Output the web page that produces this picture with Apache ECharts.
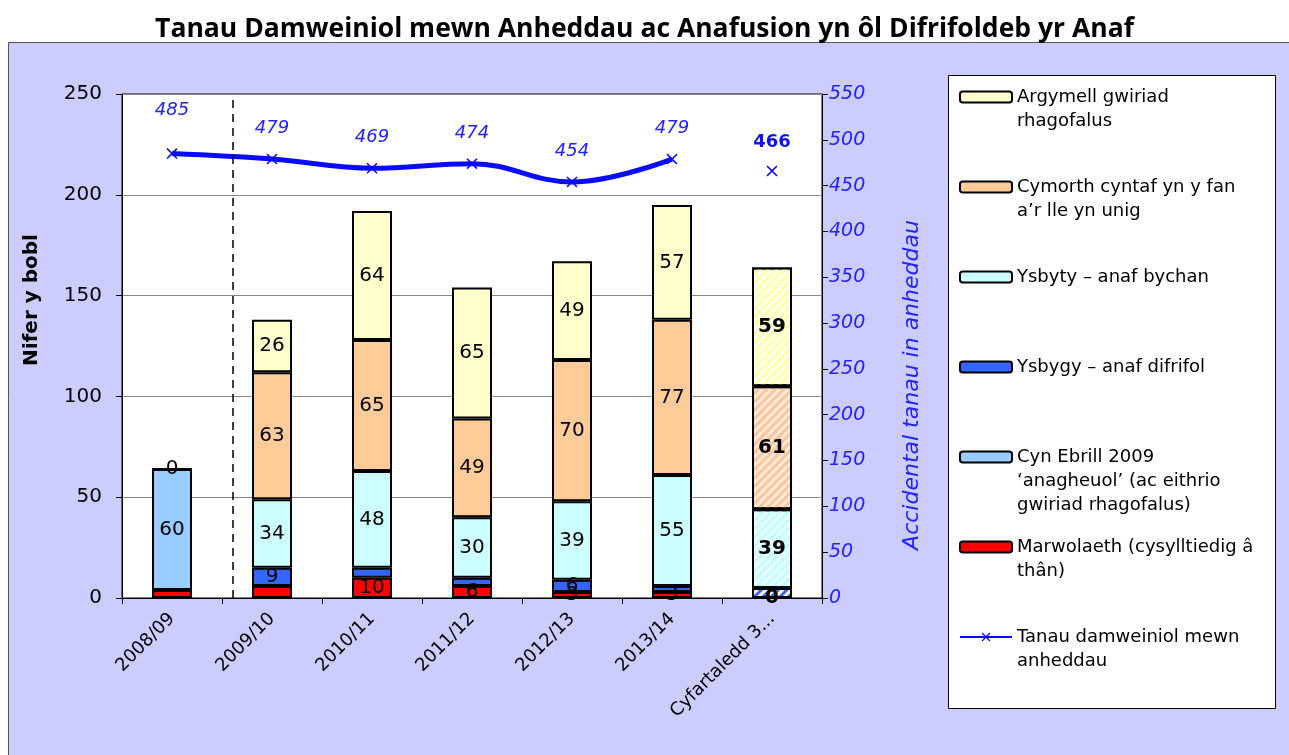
<!DOCTYPE html>
<html>
<head>
<meta charset="utf-8">
<script src="https://cdn.jsdelivr.net/npm/echarts@6/dist/echarts.min.js"></script>
<style>html,body{margin:0;padding:0;background:#fff}#c{width:1289px;height:755px}</style>
</head>
<body>
<div id="c"></div>
<script>
// ---- data ----
const categories = ['2008/09', '2009/10', '2010/11', '2011/12', '2012/13', '2013/14', 'Cyfartaledd 3 blynedd'];
const marwolaeth = [4, 6, 10, 6, 3, 3, 0];
const cynEbrill = [60, null, null, null, null, null, null];
const ysbygy = [null, 9, 5, 4, 6, 3, 5];
const ysbyty = [null, 34, 48, 30, 39, 55, 39];
const cymorth = [null, 63, 65, 49, 70, 77, 61];
const argymell = [0, 26, 64, 65, 49, 57, 59];
const tanau = [485, 479, 469, 474, 454, 479, null];
const tanauAverage = [null, null, null, null, null, null, 466];
const leftAxisTicks = {min: 0, max: 250, interval: 50};
const rightAxisTicks = {min: 0, max: 550, interval: 50};
const separatorPosition = 1.11; // on a 0..7 category-width scale
const hiddenLabels = {marwolaeth: [0, 1], ysbygy: [2, 3, 5, 6]};
const averageIndex = 6;

const names = {
  argymell: 'Argymell gwiriad\nrhagofalus',
  cymorth: 'Cymorth cyntaf yn y fan\na\u2019r lle yn unig',
  ysbyty: 'Ysbyty \u2013 anaf bychan',
  ysbygy: 'Ysbygy \u2013 anaf difrifol',
  cynEbrill: 'Cyn Ebrill 2009\n\u2018anagheuol\u2019 (ac eithrio\ngwiriad rhagofalus)',
  marwolaeth: 'Marwolaeth (cysylltiedig \u00e2\nth\u00e2n)',
  tanau: 'Tanau damweiniol mewn\nanheddau'
};

const FONT = 'DejaVu Sans';
const hatch = {
  argymell: ['#FFFFF0', '#FFFFA8'],
  cymorth: ['#FFEBDC', '#FFC49A'],
  ysbyty: ['#F0FFFF', '#BFFFFF'],
  ysbygy: ['#FFFFFF', '#3366FF'],
  marwolaeth: ['#FFFFFF', '#FF0000'],
  cynEbrill: ['#FFFFFF', '#99CCFF']
};
const colors = {
  argymell: '#FFFFCC', cymorth: '#FFCC99', ysbyty: '#CCFFFF',
  ysbygy: '#3366FF', cynEbrill: '#99CCFF', marwolaeth: '#FF0000'
};

function barSeries(key, values) {
  const hidden = hiddenLabels[key] || [];
  return {
    name: names[key],
    type: 'bar',
    stack: 'total',
    barWidth: '40%',
    itemStyle: {color: colors[key], borderColor: '#000', borderWidth: 2},
    label: {show: true, position: 'inside', color: '#000', fontFamily: FONT, fontSize: 20,
      formatter: p => p.value == null ? '' : String(p.value)},
    data: values.map((v, i) => {
      const item = {value: v};
      if (hidden.indexOf(i) >= 0) item.label = {show: false};
      if (i === averageIndex) {
        item.itemStyle = {
          color: hatch[key][0],
          decal: {symbol: 'rect', symbolSize: 1, dashArrayX: [1, 0], dashArrayY: [3, 3], rotation: -Math.PI / 4, color: hatch[key][1]}
        };
        item.label = Object.assign({fontWeight: 'bold'}, item.label || {});
      }
      return item;
    })
  };
}

const xSymbol = 'path://M0,1L1,0L5,4L9,0L10,1L6,5L10,9L9,10L5,6L1,10L0,9L4,5Z';
const legendOrder = ['argymell', 'cymorth', 'ysbyty', 'ysbygy', 'cynEbrill', 'marwolaeth', 'tanau'];
const legendTops = [61, 151, 265, 355, 397, 511, 601];

const legends = legendOrder.map((k, i) => {
  const lines = names[k].split('\n').length;
  return {
    left: 959, top: legendTops[i], orient: 'vertical', padding: 0,
    itemWidth: 52, itemHeight: 11, selectedMode: false,
    textStyle: {fontFamily: FONT, fontSize: 18, lineHeight: 24, color: '#000'},
    formatter: name => '\n'.repeat(lines - 1) + name,
    data: [names[k]]
  };
});

const chart = echarts.init(document.getElementById('c'));
chart.setOption({
  animation: false,
  backgroundColor: '#fff',
  title: {
    text: 'Tanau Damweiniol mewn Anheddau ac Anafusion yn \u00f4l Difrifoldeb yr Anaf',
    left: 'center', top: 11,
    textStyle: {fontFamily: 'Open Sans', fontWeight: 'bold', fontSize: 26.5, color: '#000'}
  },
  graphic: [
    {type: 'rect', z: -10, shape: {x: 8.5, y: 42.5, width: 1290, height: 720},
      style: {fill: '#CCCCFF', stroke: '#555', lineWidth: 1}},
    {type: 'rect', z: -5, shape: {x: 948.5, y: 75.5, width: 327, height: 633},
      style: {fill: '#fff', stroke: '#000', lineWidth: 1}}
  ],
  legend: legends,
  grid: {left: 122, right: 467, top: 94, bottom: 157, show: true, backgroundColor: '#fff', borderColor: '#000', borderWidth: 1},
  xAxis: [
    {type: 'category', data: categories,
      axisLine: {lineStyle: {color: '#000', width: 1}},
      axisTick: {show: true, length: 6, lineStyle: {color: '#000'}},
      axisLabel: {rotate: 45, interval: 0, margin: 18, color: '#000', fontFamily: FONT, fontSize: 18,
        formatter: v => v.length > 14 ? v.slice(0, 13) + '...' : v}},
    {type: 'value', min: 0, max: categories.length, show: false}
  ],
  yAxis: [
    {type: 'value', min: leftAxisTicks.min, max: leftAxisTicks.max, interval: leftAxisTicks.interval,
      name: 'Nifer y bobl', nameLocation: 'middle', nameGap: 80,
      nameTextStyle: {fontFamily: FONT, fontWeight: 'bold', fontSize: 20, color: '#000', padding: [0, 0, 0, 92]},
      axisLine: {show: true, lineStyle: {color: '#000'}},
      axisTick: {show: true, length: 6, lineStyle: {color: '#000'}},
      axisLabel: {color: '#000', fontFamily: FONT, fontSize: 20, margin: 20},
      splitLine: {show: true, lineStyle: {color: '#888', width: 1}}},
    {type: 'value', position: 'right', min: rightAxisTicks.min, max: rightAxisTicks.max, interval: rightAxisTicks.interval,
      name: 'Accidental tanau in anheddau', nameLocation: 'middle', nameGap: 79,
      nameTextStyle: {fontFamily: FONT, fontStyle: 'italic', fontSize: 22, color: '#2222FF', padding: [0, 78, 0, 0]},
      axisLine: {show: true, lineStyle: {color: '#000'}},
      axisTick: {show: true, length: 6, lineStyle: {color: '#000'}},
      axisLabel: {color: '#2222FF', fontFamily: FONT, fontStyle: 'italic', fontSize: 19, margin: 7},
      splitLine: {show: false}}
  ],
  series: [
    barSeries('marwolaeth', marwolaeth),
    barSeries('cynEbrill', cynEbrill),
    barSeries('ysbygy', ysbygy),
    barSeries('ysbyty', ysbyty),
    barSeries('cymorth', cymorth),
    barSeries('argymell', argymell),
    {
      name: names.tanau, type: 'line', yAxisIndex: 1, smooth: 0.4,
      symbol: xSymbol, symbolSize: 11,
      itemStyle: {color: '#0A0AFF'},
      lineStyle: {color: '#0A0AFF', width: 5},
      label: {show: true, position: 'top', distance: 16, color: '#2222FF', fontFamily: FONT, fontStyle: 'italic', fontSize: 18},
      data: tanau.map((v, i) => i === 0 ? {value: v, label: {distance: 29}} : v)
    },
    {
      name: 'Cyfartaledd', type: 'line', yAxisIndex: 1,
      symbol: xSymbol, symbolSize: 11,
      itemStyle: {color: '#0A0AFF'}, lineStyle: {width: 0},
      label: {show: true, position: 'top', distance: 14, color: '#1111EE', fontFamily: FONT, fontWeight: 'bold', fontSize: 18},
      data: tanauAverage
    },
    {
      name: 'separator', type: 'line', xAxisIndex: 1, yAxisIndex: 0, data: [],
      markLine: {silent: true, symbol: 'none', label: {show: false},
        lineStyle: {color: '#000', type: [8, 6], width: 1.5},
        data: [{xAxis: separatorPosition}]}
    }
  ]
});
</script>
</body>
</html>
